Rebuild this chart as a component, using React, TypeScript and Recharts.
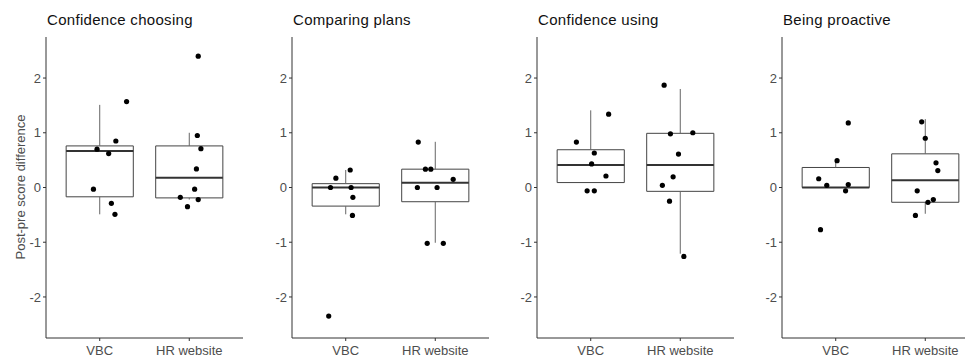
import React from 'react';
import {
  ComposedChart,
  XAxis,
  YAxis,
  Scatter,
  ReferenceArea,
  ReferenceLine,
} from 'recharts';

const categories = ['VBC', 'HR website'];
const titles = ['Confidence choosing', 'Comparing plans', 'Confidence using', 'Being proactive'];
const yTicks = [-2, -1, 0, 1, 2];

// Confidence choosing
const choosingVbc = [0.7, 0.62, 0.85, 1.57, -0.03, -0.29, -0.49];
const choosingVbcJit = [-0.03, 0.1, 0.18, 0.3, -0.07, 0.13, 0.17];
const choosingHr = [2.4, 0.95, 0.71, 0.34, -0.03, -0.18, -0.22, -0.35];
const choosingHrJit = [0.1, 0.09, 0.13, 0.08, 0.06, -0.1, 0.1, -0.02];
// [lower whisker, q1, median, q3, upper whisker]
const choosingBox = [
  [-0.49, -0.17, 0.665, 0.76, 1.51],
  [-0.22, -0.19, 0.18, 0.76, 1.0],
];

// Comparing plans
const comparingVbc = [0.17, 0.32, 0, 0, -0.18, -0.51, -2.35];
const comparingVbcJit = [-0.11, 0.05, -0.17, 0.06, 0.08, 0.075, -0.19];
const comparingHr = [0.83, 0.335, 0.335, 0.15, 0, 0, -1.02, -1.02];
const comparingHrJit = [-0.19, -0.11, -0.05, 0.2, -0.2, 0.02, -0.09, 0.09];
const comparingBox = [
  [-0.49, -0.34, 0.0, 0.07, 0.32],
  [-1.01, -0.26, 0.085, 0.335, 0.835],
];

// Confidence using
const usingVbc = [0.83, 1.34, 0.63, 0.43, 0.21, -0.06, -0.06];
const usingVbcJit = [-0.16, 0.2, 0.04, 0.01, 0.17, -0.04, 0.04];
const usingHr = [1.87, 0.98, 1.0, 0.61, 0.195, 0.04, -0.25, -1.26];
const usingHrJit = [-0.18, -0.11, 0.14, -0.02, -0.08, -0.2, -0.12, 0.04];
const usingBox = [
  [0.09, 0.09, 0.41, 0.69, 1.41],
  [-1.21, -0.07, 0.41, 0.99, 1.8],
];

// Being proactive
const proactiveVbc = [1.18, 0.49, 0.16, 0.04, 0.055, -0.06, -0.77];
const proactiveVbcJit = [0.14, 0.015, -0.19, -0.1, 0.14, 0.11, -0.17];
const proactiveHr = [1.2, 0.9, 0.45, 0.31, -0.06, -0.22, -0.27, -0.51];
const proactiveHrJit = [-0.04, 0, 0.12, 0.14, -0.09, 0.09, 0.03, -0.11];
const proactiveBox = [
  [0, 0, 0, 0.366, 0.51],
  [-0.48, -0.27, 0.134, 0.615, 1.25],
];

const panels = [
  { vals: [choosingVbc, choosingHr], jit: [choosingVbcJit, choosingHrJit], box: choosingBox },
  { vals: [comparingVbc, comparingHr], jit: [comparingVbcJit, comparingHrJit], box: comparingBox },
  { vals: [usingVbc, usingHr], jit: [usingVbcJit, usingHrJit], box: usingBox },
  { vals: [proactiveVbc, proactiveHr], jit: [proactiveVbcJit, proactiveHrJit], box: proactiveBox },
];

const axisLeft = [46, 292, 537, 782];
const FONT = '"Liberation Sans", Arial, sans-serif';
const HALF = 0.375;

const Dot = (props: any) => <circle cx={props.cx} cy={props.cy} r={2.6} fill="#000" />;

function Panel({ idx }: { idx: number }) {
  const p = panels[idx];
  const points = p.vals.flatMap((vs, c) => vs.map((y, i) => ({ x: c + 1 + p.jit[c][i], y })));
  const tickStyle = { fill: '#4d4d4d', fontSize: 13, fontFamily: FONT };
  return (
    <div style={{ position: 'absolute', left: axisLeft[idx] - 40, top: 0 }}>
      <ComposedChart width={241} height={358} margin={{ top: 37, right: 4, left: 0, bottom: 0 }}>
        <XAxis
          dataKey="x"
          type="number"
          domain={[0.4, 2.6]}
          ticks={[1, 2]}
          tickFormatter={(v: number) => categories[v - 1]}
          height={20}
          tickSize={3}
          tickMargin={5}
          tick={tickStyle}
          stroke="#333"
          allowDataOverflow
        />
        <YAxis
          dataKey="y"
          type="number"
          domain={[-2.75, 2.75]}
          ticks={yTicks}
          width={40}
          tickSize={3}
          tickMargin={2}
          tick={tickStyle}
          stroke="#333"
          allowDataOverflow
        />
        {p.box.map(([lo, q1, med, q3, hi], c) => (
          <ReferenceArea
            key={'b' + c}
            x1={c + 1 - HALF}
            x2={c + 1 + HALF}
            y1={q1}
            y2={q3}
            fill="none"
            fillOpacity={0}
            stroke="#444"
            strokeWidth={1}
          />
        ))}
        {p.box.map(([lo, q1, med, q3, hi], c) => (
          <ReferenceLine
            key={'m' + c}
            segment={[
              { x: c + 1 - HALF, y: med },
              { x: c + 1 + HALF, y: med },
            ]}
            stroke="#333"
            strokeWidth={2}
          />
        ))}
        {p.box.map(([lo, q1, med, q3, hi], c) =>
          hi > q3 ? (
            <ReferenceLine
              key={'u' + c}
              segment={[
                { x: c + 1, y: q3 },
                { x: c + 1, y: hi },
              ]}
              stroke="#666"
              strokeWidth={1}
            />
          ) : null
        )}
        {p.box.map(([lo, q1, med, q3, hi], c) =>
          lo < q1 ? (
            <ReferenceLine
              key={'l' + c}
              segment={[
                { x: c + 1, y: q1 },
                { x: c + 1, y: lo },
              ]}
              stroke="#666"
              strokeWidth={1}
            />
          ) : null
        )}
        <Scatter data={points} shape={Dot} isAnimationActive={false} />
      </ComposedChart>
      <div
        style={{
          position: 'absolute',
          left: 41,
          top: 12,
          fontSize: 15,
          letterSpacing: 0.3,
          lineHeight: '16px',
          fontFamily: FONT,
          color: '#111',
          whiteSpace: 'nowrap',
        }}
      >
        {titles[idx]}
      </div>
    </div>
  );
}

export default function App() {
  return (
    <div style={{ position: 'relative', width: 965, height: 358, overflow: 'hidden', background: '#fff' }}>
      <style>{'body{margin:0}'}</style>
      {panels.map((_, i) => (
        <Panel key={i} idx={i} />
      ))}
      <div
        style={{
          position: 'absolute',
          left: 19.5,
          top: 187,
          transform: 'translate(-50%, -50%) rotate(-90deg)',
          fontSize: 13,
          fontFamily: FONT,
          color: '#4d4d4d',
          whiteSpace: 'nowrap',
        }}
      >
        Post-pre score difference
      </div>
    </div>
  );
}
